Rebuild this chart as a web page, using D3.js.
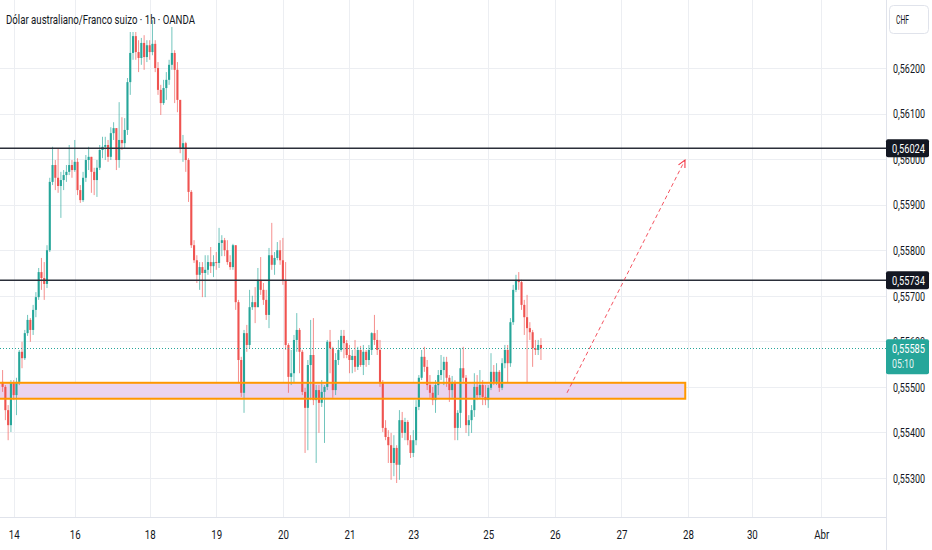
<!doctype html>
<html>
<head>
<meta charset="utf-8">
<style>
  body { margin: 0; background: #ffffff; }
  svg { display: block; font-family: Roboto, "Noto Sans", sans-serif; }
</style>
<script src="https://d3js.org/d3.v7.min.js"></script>
</head>
<body>
<script>

var title = "Dólar australiano/Franco suizo · 1h · OANDA";
var currency = "CHF";

// date labels and the candle index where each one sits
var dayLabels = ["14", "16", "18", "19", "20", "21", "23", "25", "26", "27", "28", "30", "Abr"];
var dayIndex = [4, 26, 53, 77, 101, 125, 148, 175, 199, 223, 247, 270, 295];

var priceTicks = [0.553, 0.554, 0.555, 0.556, 0.557, 0.558, 0.559, 0.560, 0.561, 0.562];

// hourly candles AUD/CHF
var opens = [
  0.55511,0.55500,0.55449,0.55416,0.55509,0.55482,0.55511,0.55577,0.55563,0.55618,
  0.55647,0.55625,0.55669,0.55697,0.55752,0.55739,0.55726,0.55800,0.55950,0.55987,
  0.55959,0.55941,0.55954,0.55965,0.55972,0.55987,0.55976,0.55994,0.55932,0.55910,
  0.55959,0.55998,0.56005,0.55972,0.55954,0.55981,0.56020,0.56027,0.56031,0.56005,
  0.56057,0.56068,0.55998,0.56042,0.56035,0.56064,0.56169,0.56233,0.56270,0.56235,
  0.56222,0.56255,0.56224,0.56250,0.56235,0.56253,0.56200,0.56152,0.56123,0.56156,
  0.56174,0.56207,0.56233,0.56196,0.56130,0.56024,0.56035,0.55998,0.55928,0.55811,
  0.55778,0.55746,0.55763,0.55750,0.55757,0.55774,0.55765,0.55774,0.55772,0.55816,
  0.55822,0.55800,0.55774,0.55763,0.55811,0.55686,0.55559,0.55487,0.55618,0.55592,
  0.55675,0.55686,0.55675,0.55735,0.55713,0.55691,0.55658,0.55789,0.55768,0.55783,
  0.55800,0.55778,0.55735,0.55592,0.55522,0.55530,0.55603,0.55625,0.55577,0.55489,
  0.55454,0.55548,0.55570,0.55471,0.55493,0.55465,0.55489,0.55500,0.55599,0.55585,
  0.55493,0.55559,0.55581,0.55612,0.55596,0.55570,0.55559,0.55568,0.55544,0.55581,
  0.55548,0.55577,0.55559,0.55581,0.55618,0.55603,0.55581,0.55509,0.55410,0.55390,
  0.55372,0.55333,0.55366,0.55329,0.55427,0.55399,0.55423,0.55383,0.55355,0.55383,
  0.55456,0.55520,0.55566,0.55544,0.55504,0.55487,0.55471,0.55504,0.55526,0.55537,
  0.55555,0.55520,0.55493,0.55511,0.55410,0.55443,0.55541,0.55520,0.55416,0.55427,
  0.55449,0.55500,0.55482,0.55504,0.55478,0.55471,0.55498,0.55533,0.55511,0.55533,
  0.55498,0.55552,0.55581,0.55552,0.55642,0.55713,0.55735,0.55730,0.55680,0.55653,
  0.55629,0.55620,0.55585,0.55581,0.55592
];
var highs = [
  0.55537,0.55504,0.55460,0.55515,0.55515,0.55520,0.55581,0.55599,0.55625,0.55658,
  0.55651,0.55680,0.55708,0.55761,0.55783,0.55774,0.55811,0.55959,0.56027,0.55998,
  0.56024,0.55972,0.55976,0.55987,0.56031,0.55998,0.56042,0.56002,0.55943,0.55972,
  0.56009,0.56027,0.56002,0.55981,0.55998,0.56031,0.56049,0.56049,0.56042,0.56070,
  0.56081,0.56064,0.56125,0.56092,0.56090,0.56178,0.56279,0.56279,0.56279,0.56261,
  0.56266,0.56272,0.56261,0.56261,0.56305,0.56261,0.56213,0.56163,0.56174,0.56191,
  0.56218,0.56290,0.56239,0.56213,0.56130,0.56053,0.56038,0.56002,0.55932,0.55822,
  0.55789,0.55774,0.55774,0.55789,0.55789,0.55807,0.55789,0.55796,0.55849,0.55833,
  0.55827,0.55822,0.55789,0.55814,0.55783,0.55691,0.55566,0.55625,0.55636,0.55713,
  0.55700,0.55719,0.55761,0.55785,0.55728,0.55713,0.55805,0.55860,0.55796,0.55818,
  0.55822,0.55827,0.55774,0.55596,0.55581,0.55614,0.55662,0.55629,0.55581,0.55498,
  0.55559,0.55647,0.55651,0.55504,0.55504,0.55515,0.55504,0.55603,0.55625,0.55588,
  0.55574,0.55603,0.55625,0.55625,0.55603,0.55592,0.55581,0.55603,0.55588,0.55590,
  0.55592,0.55581,0.55592,0.55620,0.55658,0.55625,0.55603,0.55515,0.55427,0.55405,
  0.55399,0.55394,0.55372,0.55449,0.55445,0.55432,0.55427,0.55394,0.55405,0.55471,
  0.55526,0.55581,0.55588,0.55559,0.55526,0.55500,0.55515,0.55537,0.55570,0.55566,
  0.55566,0.55526,0.55524,0.55515,0.55449,0.55585,0.55588,0.55526,0.55438,0.55460,
  0.55530,0.55526,0.55537,0.55515,0.55504,0.55504,0.55574,0.55548,0.55552,0.55537,
  0.55563,0.55592,0.55592,0.55651,0.55724,0.55746,0.55752,0.55735,0.55691,0.55702,
  0.55642,0.55625,0.55603,0.55603,0.55607
];
var lows = [
  0.55489,0.55427,0.55383,0.55401,0.55471,0.55438,0.55504,0.55541,0.55559,0.55612,
  0.55599,0.55614,0.55653,0.55691,0.55713,0.55691,0.55717,0.55796,0.55943,0.55932,
  0.55926,0.55871,0.55932,0.55950,0.55965,0.55959,0.55972,0.55921,0.55904,0.55906,
  0.55950,0.55976,0.55926,0.55921,0.55917,0.55976,0.56002,0.55998,0.55994,0.55998,
  0.56042,0.55976,0.55981,0.56020,0.56024,0.56053,0.56141,0.56218,0.56218,0.56191,
  0.56207,0.56196,0.56213,0.56218,0.56228,0.56191,0.56141,0.56097,0.56119,0.56130,
  0.56163,0.56196,0.56123,0.56103,0.56013,0.55994,0.55972,0.55906,0.55805,0.55772,
  0.55728,0.55713,0.55697,0.55697,0.55746,0.55750,0.55741,0.55757,0.55761,0.55787,
  0.55787,0.55768,0.55757,0.55757,0.55669,0.55509,0.55478,0.55443,0.55577,0.55585,
  0.55669,0.55640,0.55680,0.55702,0.55680,0.55647,0.55629,0.55757,0.55746,0.55778,
  0.55768,0.55724,0.55581,0.55487,0.55504,0.55509,0.55577,0.55530,0.55482,0.55355,
  0.55361,0.55471,0.55460,0.55333,0.55399,0.55456,0.55377,0.55493,0.55530,0.55476,
  0.55482,0.55548,0.55577,0.55563,0.55563,0.55530,0.55530,0.55533,0.55537,0.55544,
  0.55526,0.55544,0.55548,0.55570,0.55592,0.55570,0.55500,0.55401,0.55383,0.55333,
  0.55296,0.55304,0.55289,0.55296,0.55388,0.55383,0.55372,0.55344,0.55346,0.55372,
  0.55449,0.55515,0.55533,0.55493,0.55476,0.55460,0.55443,0.55482,0.55515,0.55504,
  0.55500,0.55467,0.55476,0.55383,0.55383,0.55410,0.55511,0.55399,0.55392,0.55399,
  0.55434,0.55471,0.55476,0.55460,0.55460,0.55454,0.55493,0.55504,0.55504,0.55489,
  0.55493,0.55541,0.55509,0.55544,0.55636,0.55708,0.55713,0.55669,0.55614,0.55509,
  0.55603,0.55544,0.55570,0.55570,0.55559
];
var closes = [
  0.55500,0.55449,0.55416,0.55509,0.55482,0.55511,0.55577,0.55563,0.55618,0.55647,
  0.55625,0.55669,0.55697,0.55752,0.55739,0.55726,0.55800,0.55950,0.55987,0.55959,
  0.55941,0.55954,0.55965,0.55972,0.55987,0.55976,0.55994,0.55932,0.55910,0.55959,
  0.55998,0.56005,0.55972,0.55954,0.55981,0.56020,0.56027,0.56031,0.56005,0.56057,
  0.56068,0.55998,0.56042,0.56035,0.56064,0.56169,0.56233,0.56270,0.56235,0.56222,
  0.56255,0.56224,0.56250,0.56235,0.56253,0.56200,0.56152,0.56123,0.56156,0.56174,
  0.56207,0.56233,0.56196,0.56130,0.56024,0.56035,0.55998,0.55928,0.55811,0.55778,
  0.55746,0.55763,0.55750,0.55757,0.55774,0.55765,0.55774,0.55772,0.55816,0.55822,
  0.55800,0.55774,0.55763,0.55811,0.55686,0.55559,0.55487,0.55618,0.55592,0.55675,
  0.55686,0.55675,0.55735,0.55713,0.55691,0.55658,0.55789,0.55768,0.55783,0.55800,
  0.55778,0.55735,0.55592,0.55522,0.55530,0.55603,0.55625,0.55577,0.55489,0.55454,
  0.55548,0.55570,0.55471,0.55493,0.55465,0.55489,0.55500,0.55599,0.55585,0.55493,
  0.55559,0.55581,0.55612,0.55596,0.55570,0.55559,0.55568,0.55544,0.55581,0.55548,
  0.55577,0.55559,0.55581,0.55618,0.55603,0.55581,0.55509,0.55410,0.55390,0.55372,
  0.55333,0.55366,0.55329,0.55427,0.55399,0.55423,0.55383,0.55355,0.55383,0.55456,
  0.55520,0.55566,0.55544,0.55504,0.55487,0.55471,0.55504,0.55526,0.55537,0.55555,
  0.55520,0.55493,0.55511,0.55410,0.55443,0.55541,0.55520,0.55416,0.55427,0.55449,
  0.55500,0.55482,0.55504,0.55478,0.55471,0.55498,0.55533,0.55511,0.55533,0.55498,
  0.55552,0.55581,0.55552,0.55642,0.55713,0.55735,0.55730,0.55680,0.55653,0.55629,
  0.55620,0.55585,0.55581,0.55592,0.55585
];

// drawings
var levels = [0.56024, 0.55734];
var lastPrice = 0.55585;
var countdown = "05:10";
var zonePrices = [0.55474, 0.55509];
var zoneEndIndex = 246;
var arrowIndex = [203.4, 245.9];
var arrowPrice = [0.55487, 0.55998];

var W = 932, H = 550;
var plotRight = 886, plotBottom = 517;
var up = "#26a69a", down = "#ef5350", ink = "#131722";

var svg = d3.select("body").append("svg")
  .attr("width", W)
  .attr("height", H);

var x = d3.scaleLinear().domain([0, 300]).range([2.6, 2.6 + 2.775 * 300]);
var y = d3.scaleLinear().domain([0.553, 0.562]).range([478, 68]);

var comma = function(v) { return d3.format(".5f")(v).replace(".", ","); };

function squeeze(sel, k) {
  sel.each(function() {
    var w = this.getComputedTextLength();
    this.setAttribute("textLength", (w * k).toFixed(1));
    this.setAttribute("lengthAdjust", "spacingAndGlyphs");
  });
}

// grid
var grid = svg.append("g");
grid.selectAll(".hg").data(priceTicks).enter().append("line")
  .attr("x1", 0).attr("x2", plotRight)
  .attr("y1", function(d) { return Math.round(y(d)) + 0.5; })
  .attr("y2", function(d) { return Math.round(y(d)) + 0.5; })
  .attr("stroke", "#eceef2");
grid.selectAll(".vg").data(dayIndex).enter().append("line")
  .attr("y1", 0).attr("y2", plotBottom)
  .attr("x1", function(d) { return Math.round(x(d)) + 0.5; })
  .attr("x2", function(d) { return Math.round(x(d)) + 0.5; })
  .attr("stroke", "#eceef2");

// support zone fill (under the candles)
var zx = x(zoneEndIndex);
svg.append("rect")
  .attr("x", -10)
  .attr("y", y(zonePrices[1]))
  .attr("width", zx + 10)
  .attr("height", y(zonePrices[0]) - y(zonePrices[1]))
  .attr("fill", "#ebd4ef");

// candles
var candles = d3.range(closes.length).map(function(i) {
  return { i: i, o: opens[i], h: Math.max(highs[i], opens[i], closes[i]),
           l: Math.min(lows[i], opens[i], closes[i]), c: closes[i] };
});

var cg = svg.append("g");
cg.selectAll(".wick").data(candles).enter().append("line")
  .attr("x1", function(d) { return x(d.i); })
  .attr("x2", function(d) { return x(d.i); })
  .attr("y1", function(d) { return y(d.h); })
  .attr("y2", function(d) { return y(d.l); })
  .attr("stroke", function(d) { return d.c >= d.o ? up : down; })
  .attr("stroke-opacity", 0.65)
  .attr("stroke-width", 1);

cg.selectAll(".body").data(candles).enter().append("rect")
  .attr("x", function(d) { return x(d.i) - 1.05; })
  .attr("width", 2.1)
  .attr("y", function(d) { return y(Math.max(d.o, d.c)); })
  .attr("height", function(d) { return Math.max(1, Math.abs(y(d.o) - y(d.c))); })
  .attr("fill", function(d) { return d.c >= d.o ? up : down; });

// zone border
svg.append("rect")
  .attr("x", -10)
  .attr("y", y(zonePrices[1]))
  .attr("width", zx + 10)
  .attr("height", y(zonePrices[0]) - y(zonePrices[1]))
  .attr("fill", "none")
  .attr("stroke", "#ff9800")
  .attr("stroke-width", 2);

// horizontal levels
svg.selectAll(".lvl").data(levels).enter().append("line")
  .attr("x1", 0).attr("x2", plotRight)
  .attr("y1", function(d) { return y(d); })
  .attr("y2", function(d) { return y(d); })
  .attr("stroke", "#2a2e39")
  .attr("stroke-width", 1.6);

// last price dotted line
svg.append("line")
  .attr("x1", 0).attr("x2", plotRight)
  .attr("y1", Math.round(y(lastPrice)) + 0.5)
  .attr("y2", Math.round(y(lastPrice)) + 0.5)
  .attr("stroke", up)
  .attr("stroke-dasharray", "1 2");

// projected move
svg.append("defs").append("marker")
  .attr("id", "head")
  .attr("viewBox", "0 0 10 10")
  .attr("refX", 9).attr("refY", 5)
  .attr("markerWidth", 9).attr("markerHeight", 9)
  .attr("markerUnits", "userSpaceOnUse")
  .attr("orient", "auto")
  .append("path")
  .attr("d", "M1,1 L9,5 L1,9")
  .attr("fill", "none")
  .attr("stroke", "#f23645")
  .attr("stroke-width", 1.2);

svg.append("line")
  .attr("x1", x(arrowIndex[0])).attr("y1", y(arrowPrice[0]))
  .attr("x2", x(arrowIndex[1])).attr("y2", y(arrowPrice[1]))
  .attr("stroke", "#f23645")
  .attr("stroke-opacity", 0.85)
  .attr("stroke-dasharray", "4 3")
  .attr("marker-end", "url(#head)");

// axis frame
svg.append("line")
  .attr("x1", plotRight + 0.5).attr("x2", plotRight + 0.5)
  .attr("y1", 0).attr("y2", H)
  .attr("stroke", "#e0e3eb");
svg.append("line")
  .attr("x1", 0).attr("x2", plotRight)
  .attr("y1", plotBottom + 0.5).attr("y2", plotBottom + 0.5)
  .attr("stroke", "#e0e3eb");

// price axis
var ya = svg.append("g")
  .attr("transform", "translate(" + plotRight + ",0)")
  .call(d3.axisRight(y).tickValues(priceTicks).tickSize(0).tickPadding(7).tickFormat(comma));
ya.select(".domain").remove();
ya.selectAll("text")
  .attr("font-family", "Roboto, sans-serif")
  .attr("font-size", 13.5)
  .attr("fill", ink)
  .attr("textLength", 32)
  .attr("lengthAdjust", "spacingAndGlyphs");

// time axis
var xa = svg.append("g")
  .attr("transform", "translate(0," + plotBottom + ")")
  .call(d3.axisBottom(x).tickValues(dayIndex).tickSize(0).tickPadding(12)
    .tickFormat(function(d, i) { return dayLabels[i]; }));
xa.select(".domain").remove();
xa.selectAll("text")
  .attr("font-family", "Roboto, sans-serif")
  .attr("font-size", 13.5)
  .attr("fill", ink);
squeeze(xa.selectAll("text"), 0.72);

// level tags
var tags = svg.selectAll(".tag").data(levels).enter().append("g")
  .attr("transform", function(d) { return "translate(" + plotRight + "," + y(d) + ")"; });
tags.append("rect")
  .attr("x", 0).attr("y", -9)
  .attr("width", 43).attr("height", 18)
  .attr("rx", 2)
  .attr("fill", ink);
tags.append("text")
  .attr("x", 6).attr("y", 5)
  .attr("font-size", 13.5)
  .attr("fill", "#ffffff")
  .attr("textLength", 33)
  .attr("lengthAdjust", "spacingAndGlyphs")
  .text(function(d) { return comma(d); });

// last price tag
var lp = svg.append("g")
  .attr("transform", "translate(" + plotRight + "," + y(lastPrice) + ")");
lp.append("rect")
  .attr("x", 0).attr("y", -9)
  .attr("width", 43).attr("height", 35)
  .attr("rx", 2)
  .attr("fill", up);
lp.append("text")
  .attr("x", 6).attr("y", 5)
  .attr("font-size", 13.5)
  .attr("fill", "#ffffff")
  .attr("textLength", 33)
  .attr("lengthAdjust", "spacingAndGlyphs")
  .text(comma(lastPrice));
lp.append("text")
  .attr("x", 6).attr("y", 20)
  .attr("font-size", 13.5)
  .attr("fill", "#ffffff")
  .attr("fill-opacity", 0.9)
  .attr("textLength", 22)
  .attr("lengthAdjust", "spacingAndGlyphs")
  .text(countdown);

// currency box
svg.append("rect")
  .attr("x", 889.5).attr("y", 5.5)
  .attr("width", 39).attr("height", 28)
  .attr("rx", 4)
  .attr("fill", "#ffffff")
  .attr("stroke", "#e0e3eb");
svg.append("text")
  .attr("x", 896).attr("y", 24)
  .attr("font-size", 12.5)
  .attr("fill", ink)
  .attr("textLength", 13)
  .attr("lengthAdjust", "spacingAndGlyphs")
  .text(currency);

// title
svg.append("text")
  .attr("x", 6).attr("y", 24)
  .attr("font-size", 13.5)
  .attr("fill", ink)
  .attr("textLength", 189)
  .attr("lengthAdjust", "spacingAndGlyphs")
  .text(title);

</script>
</body>
</html>
